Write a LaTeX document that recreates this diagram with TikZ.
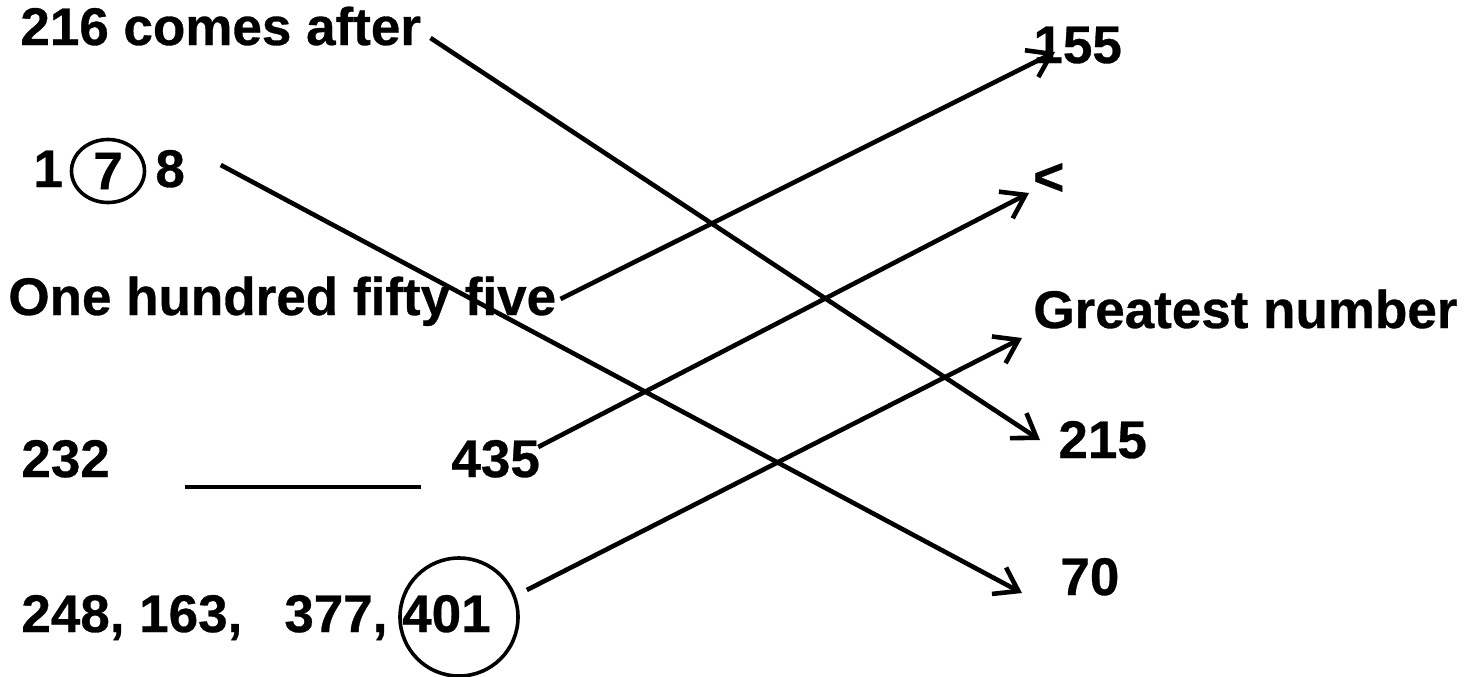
\documentclass[tikz,border=0pt]{standalone}
\usepackage{fontspec}
\setmainfont{Liberation Sans}
\newfontfamily\heavyfont{Liberation Sans Bold}[FakeBold=0.6]
\usetikzlibrary{arrows.meta,shapes.geometric}
\begin{document}
\begin{tikzpicture}[x=0.5pt,y=-0.5pt,
  lbl/.style={inner sep=0pt, anchor=base west, font=\fontsize{26.5}{30}\selectfont\heavyfont},
  conn/.style={line width=2.3pt, -{Straight Barb[length=11pt,width=15pt,line width=2.3pt]}},
  ring/.style={draw, ellipse, line width=1.8pt, inner sep=0pt, font=\fontsize{26.5}{30}\selectfont\heavyfont},
  rule/.style={line width=2.4pt}]
\useasboundingbox (0,0) rectangle (1468,676);
% left column
\node[lbl] (t216) at (20,45) {216 comes after};
\node[lbl] (n1) at (33,187) {1};
\node[ring, minimum width=36.5pt, minimum height=31.5pt] (c7) at (108,171) {7};
\node[lbl] (n8) at (155,187) {8};
\node[lbl] (t155w) at (8,315) {One hundred fifty five};
\node[lbl] (n232) at (21,477) {232};
\coordinate (u1) at (185,487);
\coordinate (u2) at (421,487);
\draw[rule] (u1) -- (u2);
\node[lbl] (n435) at (451,477) {435};
\node[lbl] (t248) at (21,632) {248, 163,\hspace{21pt}377, 401};
\node[ring, minimum width=59pt, minimum height=59pt] (c401) at (459,617) {};
% right column
\node[lbl] (n155) at (1033,63) {155};
\node[lbl] (nlt) at (1033,195) {<};
\node[lbl] (tgreat) at (1033,328) {Greatest number};
\node[lbl] (n215) at (1058,458) {215};
\node[lbl] (n70) at (1060,595) {70};
% connectors
\draw[conn] ([shift={(9,-7)}]t216.base east) -- ([shift={(-18,-18)}]n215.base west);
\draw[conn] ([shift={(35.5,-22)}]n8.base east) -- ([shift={(-38,-2)}]n70.base west);
\draw[conn] ([shift={(4,-16)}]t155w.base east) -- ([shift={(22,-11)}]n155.base west);
\draw[conn] ([shift={(-2,-30)}]n435.base east) -- ([shift={(-4,-2)}]nlt.base west);
\draw[conn] ([shift={(7,-27)}]c401.east) -- ([shift={(-11,10)}]tgreat.base west);
\end{tikzpicture}
\end{document}
